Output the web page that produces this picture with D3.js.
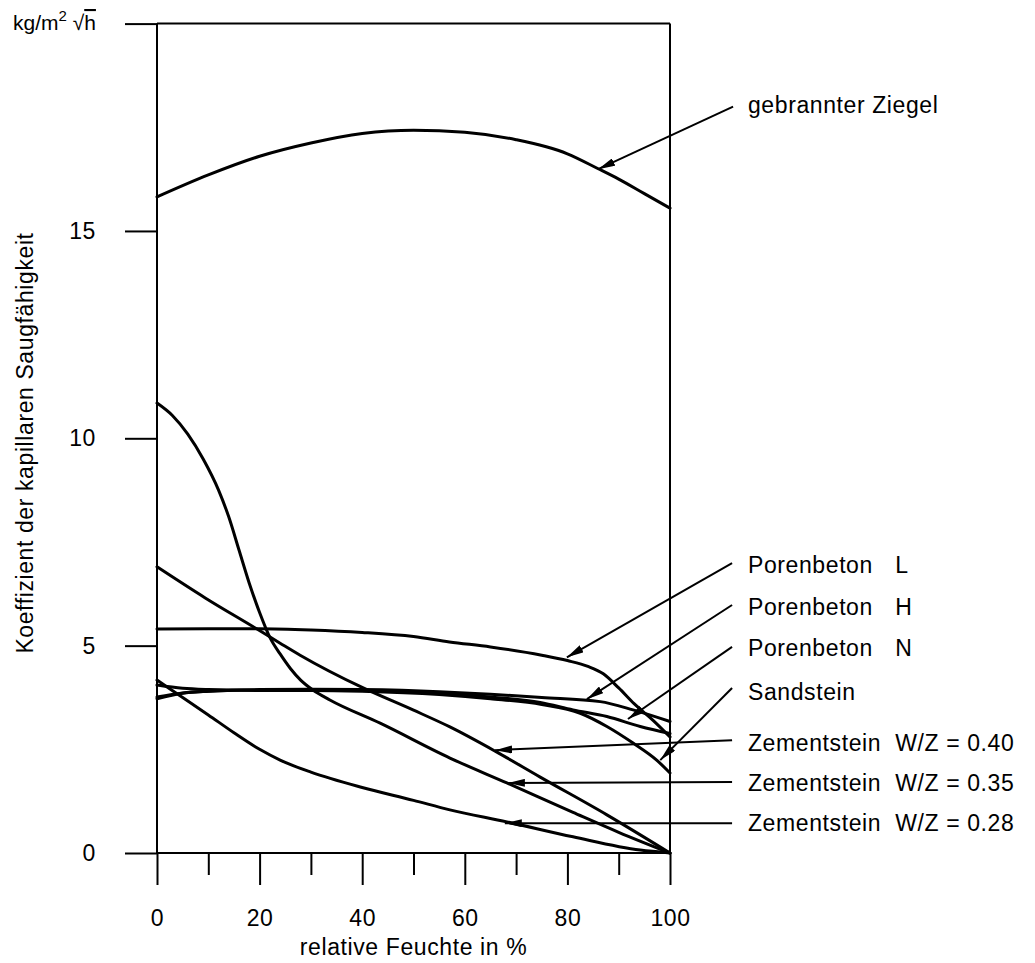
<!DOCTYPE html>
<html>
<head>
<meta charset="utf-8">
<script src="https://cdn.jsdelivr.net/npm/d3@7"></script>
<style>
  body { margin: 0; background: #fff; }
  svg text { font-family: "Liberation Sans", Arial, Helvetica, sans-serif; fill: #000; }
  .curve { fill: none; stroke: #000; stroke-width: 3; stroke-linejoin: round; stroke-linecap: round; }
  .frame { stroke: #000; stroke-width: 2; }
  .arrow { stroke: #000; stroke-width: 2; }
  .lbl { font-size: 23px; letter-spacing: 0.6px; }
</style>
</head>
<body>
<div id="chart"></div>
<script>
// Curves (x = relative Feuchte %, y = coefficient)
const ziegelX = [0, 10, 20, 30, 40, 50, 60, 70, 80, 86, 90, 95, 100];
const ziegelY = [15.82, 16.35, 16.8, 17.12, 17.35, 17.43, 17.38, 17.2, 16.86, 16.5, 16.25, 15.9, 15.55];

const porenLX = [0, 10, 20, 30, 40, 50, 57, 65, 75, 80, 84, 87, 90, 93, 96.7, 100];
const porenLY = [5.4, 5.41, 5.41, 5.38, 5.32, 5.22, 5.09, 4.97, 4.77, 4.64, 4.5, 4.32, 3.98, 3.6, 3.2, 2.8];

const porenHX = [0, 5, 10, 20, 30, 40, 55, 65, 75, 86.4, 92.8, 100];
const porenHY = [3.72, 3.85, 3.9, 3.94, 3.95, 3.94, 3.89, 3.83, 3.75, 3.65, 3.45, 3.17];

const porenNX = [0, 5, 10, 20, 30, 40, 55, 65, 74.7, 81.1, 87.7, 94.2, 100];
const porenNY = [3.76, 3.86, 3.9, 3.93, 3.93, 3.92, 3.85, 3.76, 3.63, 3.45, 3.29, 3.05, 2.88];

const sandX = [0, 5, 10, 20, 30, 40, 55, 65, 75, 82.5, 87.7, 92.8, 97.4, 100];
const sandY = [4.05, 3.97, 3.94, 3.92, 3.92, 3.9, 3.82, 3.72, 3.58, 3.37, 3.05, 2.65, 2.24, 1.93];

const zem40X = [0, 9.4, 19.5, 24, 27.9, 40.2, 49.9, 57.1, 66, 74.7, 87.7, 100];
const zem40Y = [6.9, 6.15, 5.4, 5.06, 4.77, 3.98, 3.45, 3.04, 2.45, 1.83, 0.92, 0];

const zem35X = [0, 3, 6, 9, 12, 14, 16, 18, 20, 22, 24, 26, 28, 30.4, 33.7, 43.5, 57.1, 68.2, 81.1, 90, 100];
const zem35Y = [10.85, 10.55, 10.1, 9.5, 8.75, 8.1, 7.3, 6.5, 5.8, 5.2, 4.8, 4.45, 4.17, 3.93, 3.69, 3.13, 2.29, 1.69, 0.98, 0.5, 0];

const zem28X = [0, 5, 10, 15, 20, 24, 30, 40, 50, 57.1, 68.2, 81.1, 94.2, 100];
const zem28Y = [4.17, 3.75, 3.33, 2.9, 2.5, 2.24, 1.95, 1.58, 1.27, 1.04, 0.75, 0.39, 0.07, 0];

// Labels and arrows (in data units): text position, arrow tail, arrow tip
const labelNames = ["gebrannter Ziegel", "Porenbeton", "Porenbeton", "Porenbeton", "Sandstein",
                    "Zementstein", "Zementstein", "Zementstein"];
const labelSuffix = ["", "L", "H", "N", "", "W/Z = 0.40", "W/Z = 0.35", "W/Z = 0.28"];
const labelY = [18.04, 6.94, 5.93, 4.94, 3.88, 2.65, 1.69, 0.72];
const arrowTail = [[112.3, 18.0], [112.1, 6.99], [112.1, 5.98], [112.1, 4.97], [112.1, 3.98], [112.1, 2.72], [112.1, 1.71], [112.1, 0.72]];
const arrowTip = [[86, 16.49], [79.9, 4.72], [83.8, 3.71], [91.8, 3.23], [98.1, 2.24], [65.9, 2.48], [68.4, 1.69], [67.8, 0.72]];

const yTicks = [0, 5, 10, 15, 20];
const xMajor = [0, 20, 40, 60, 80, 100];
const xMinor = [10, 30, 50, 70, 90];

const W = 1035, H = 963;

const svg = d3.select("#chart")
    .append("svg")
    .attr("width", W)
    .attr("height", H);

const x = d3.scaleLinear().domain([0, 100]).range([157, 670]);
const y = d3.scaleLinear().domain([0, 20]).range([853, 23.6]);

// arrow head
svg.append("defs").append("marker")
    .attr("id", "head")
    .attr("viewBox", "0 -4 17 8")
    .attr("refX", 17).attr("refY", 0)
    .attr("markerUnits", "userSpaceOnUse")
    .attr("markerWidth", 17).attr("markerHeight", 8)
    .attr("orient", "auto")
    .append("path")
    .attr("d", "M0,-4L17,0L0,4Z")
    .attr("fill", "#000");

// Y axis
svg.append("g")
    .attr("transform", `translate(${x(0)},0)`)
    .call(d3.axisLeft(y).tickValues(yTicks).tickSize(32).tickPadding(29)
        .tickFormat(d => d === 20 ? "" : d))
    .call(g => g.select(".domain").remove())
    .call(g => g.selectAll("line").attr("stroke", "#000").attr("stroke-width", 2))
    .call(g => g.selectAll("text").attr("class", "lbl"));

// X axis, major and minor ticks below
svg.append("g")
    .attr("transform", `translate(0,${y(0)})`)
    .call(d3.axisBottom(x).tickValues(xMajor).tickSize(32).tickPadding(25))
    .call(g => g.select(".domain").remove())
    .call(g => g.selectAll("line").attr("stroke", "#000").attr("stroke-width", 2))
    .call(g => g.selectAll("text").attr("class", "lbl"));

svg.append("g")
    .attr("transform", `translate(0,${y(0)})`)
    .call(d3.axisBottom(x).tickValues(xMinor).tickSize(22).tickFormat(""))
    .call(g => g.select(".domain").remove())
    .call(g => g.selectAll("line").attr("stroke", "#000").attr("stroke-width", 2));

// frame
const frame = [
    [[0, 0], [100, 0]], [[0, 20], [100, 20]],
    [[0, 0], [0, 20]], [[100, 0], [100, 20]]
];
svg.selectAll(".frame")
    .data(frame)
    .enter()
    .append("line")
    .attr("class", "frame")
    .attr("x1", d => x(d[0][0])).attr("y1", d => y(d[0][1]))
    .attr("x2", d => x(d[1][0])).attr("y2", d => y(d[1][1]));

// curves
const series = [
    [ziegelX, ziegelY], [porenLX, porenLY], [porenHX, porenHY], [porenNX, porenNY],
    [sandX, sandY], [zem40X, zem40Y], [zem35X, zem35Y], [zem28X, zem28Y]
];
const line = d3.line()
    .x(d => x(d[0]))
    .y(d => y(d[1]))
    .curve(d3.curveMonotoneX);

svg.selectAll(".curve")
    .data(series.map(s => s[0].map((v, i) => [v, s[1][i]])))
    .enter()
    .append("path")
    .attr("class", "curve")
    .attr("d", line);

// arrows
svg.selectAll(".arrow")
    .data(arrowTail.map((t, i) => [t, arrowTip[i]]))
    .enter()
    .append("line")
    .attr("class", "arrow")
    .attr("x1", d => x(d[0][0])).attr("y1", d => y(d[0][1]))
    .attr("x2", d => x(d[1][0])).attr("y2", d => y(d[1][1]))
    .attr("marker-end", "url(#head)");

// labels
labelNames.forEach((name, i) => {
    svg.append("text")
        .attr("class", "lbl")
        .attr("x", x(115.2))
        .attr("y", y(labelY[i]))
        .attr("dy", "0.35em")
        .text(name);
    if (labelSuffix[i]) {
        svg.append("text")
            .attr("class", "lbl")
            .attr("x", x(143.9))
            .attr("y", y(labelY[i]))
            .attr("dy", "0.35em")
            .text(labelSuffix[i]);
    }
});

// axis titles
svg.append("text")
    .attr("class", "lbl")
    .attr("x", (x(0) + x(100)) / 2)
    .attr("y", 947)
    .attr("dy", "0.35em")
    .attr("text-anchor", "middle")
    .text("relative Feuchte in %");

svg.append("text")
    .attr("class", "lbl")
    .attr("transform", "translate(25,443) rotate(-90)")
    .attr("dy", "0.35em")
    .attr("text-anchor", "middle")
    .text("Koeffizient der kapillaren Saugfähigkeit");

// unit label
const unit = svg.append("text")
    .attr("x", 13)
    .attr("y", 30)
    .style("font-size", "21px");
unit.append("tspan").text("kg/m");
unit.append("tspan").attr("dy", -9).style("font-size", "15px").text("2");
unit.append("tspan").attr("dy", 9).text(" √");
unit.append("tspan").style("text-decoration", "overline").text("h");
</script>
</body>
</html>
